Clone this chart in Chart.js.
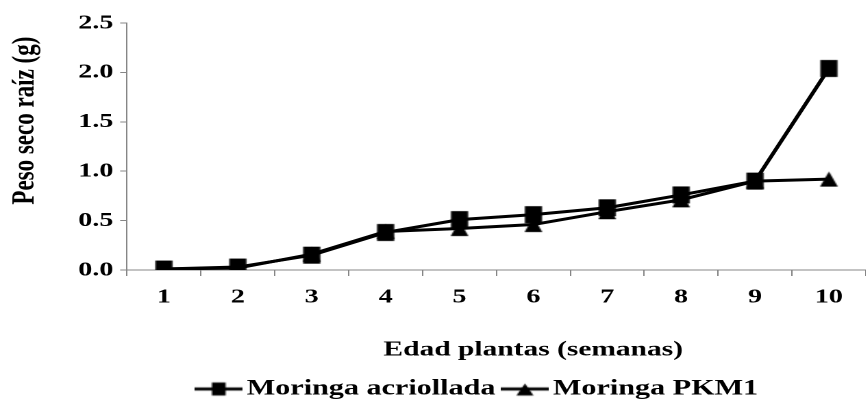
<!DOCTYPE html>
<html>
<head>
<meta charset="utf-8">
<script src="https://cdn.jsdelivr.net/npm/chart.js@4"></script>
<style>
  body { margin: 0; overflow: hidden; background: #fff; }
  /* the original picture is stretched sideways, so the whole chart is too */
  #wrap { width: 643px; height: 405px; transform: scaleX(1.37); transform-origin: 0 0; }
</style>
</head>
<body>
<div id="wrap"><canvas id="rootChart"></canvas></div>
<script>
const weeks = ['1', '2', '3', '4', '5', '6', '7', '8', '9', '10'];
const acriollada = [0.01, 0.03, 0.15, 0.38, 0.51, 0.56, 0.63, 0.76, 0.90, 2.04];
const pkm1 = [0.01, 0.02, 0.16, 0.39, 0.42, 0.46, 0.59, 0.71, 0.90, 0.92];
const seriesNames = ['Moringa acriollada', 'Moringa PKM1'];
const yTicks = [0, 0.5, 1.0, 1.5, 2.0, 2.5];

const serif = "'Liberation Serif', 'Times New Roman', serif";
const axisGray = '#868686';

// markers are drawn narrow, the stretch makes them square again
function drawShape(g, shape, cx, cy, w, h) {
    if (shape === 'rect') {
        g.fillRect(cx - w / 2, cy - h / 2, w, h);
    } else {
        g.beginPath();
        g.moveTo(cx, cy - h / 2);
        g.lineTo(cx + w / 2, cy + h / 2);
        g.lineTo(cx - w / 2, cy + h / 2);
        g.closePath();
        g.fill();
    }
}

function markerImage(shape, w, h) {
    let c = document.createElement('canvas');
    c.width = Math.ceil(w) + 2;
    c.height = Math.ceil(h) + 2;
    let g = c.getContext('2d');
    g.fillStyle = '#000';
    drawShape(g, shape, c.width / 2, c.height / 2, w, h);
    return c;
}

function legendIcon(shape, w, h) {
    let c = document.createElement('canvas');
    c.width = 35;
    c.height = 16;
    let g = c.getContext('2d');
    g.strokeStyle = '#000';
    g.fillStyle = '#000';
    g.lineWidth = 3;
    g.beginPath();
    g.moveTo(0, 8);
    g.lineTo(35, 8);
    g.stroke();
    drawShape(g, shape, 17.5, shape === 'rect' ? 8 : 8.5, w, h);
    return c;
}

const squareMark = markerImage('rect', 12.5, 17);
const triangleMark = markerImage('triangle', 13, 15);
const icons = [legendIcon('rect', 10, 13), legendIcon('triangle', 12.5, 12)];

// the legend is not centred on the canvas in the original
const nudgeLegend = {
    id: 'nudgeLegend',
    afterLayout(chart) {
        chart.legend.left += 32;
        chart.legend.right += 32;
        chart.legend.top += 5;
        chart.legend.bottom += 5;
    }
};

let ctx = document.getElementById('rootChart').getContext('2d');
new Chart(ctx, {
    type: 'line',
    data: {
        labels: weeks,
        datasets: [{
            label: seriesNames[0],
            data: acriollada,
            borderColor: '#000',
            backgroundColor: '#000',
            borderWidth: 3,
            pointStyle: squareMark,
            pointRadius: 8,
            tension: 0
        }, {
            label: seriesNames[1],
            data: pkm1,
            borderColor: '#000',
            backgroundColor: '#000',
            borderWidth: 3,
            pointStyle: triangleMark,
            pointRadius: 8,
            tension: 0
        }]
    },
    options: {
        responsive: true,
        maintainAspectRatio: false,
        animation: false,
        devicePixelRatio: 2,
        layout: { padding: { top: 23, left: 0, right: 3.5, bottom: 0 } },
        scales: {
            x: {
                offset: true,
                grid: { display: true, drawOnChartArea: false, offset: true, tickLength: 6, color: axisGray },
                border: { color: axisGray, width: 1 },
                ticks: { color: '#000', padding: 9, font: { family: serif, size: 20.5, weight: 'bold' } },
                title: {
                    display: true,
                    text: ' '.repeat(10) + 'Edad plantas (semanas)',
                    color: '#000',
                    padding: { top: 0, bottom: -2 },
                    font: { family: serif, size: 21.5, weight: 'bold' }
                },
                afterFit: scale => { scale.height = 91; }
            },
            y: {
                min: 0,
                max: 2.5,
                grid: { display: true, drawOnChartArea: false, tickLength: 5, color: axisGray },
                border: { color: axisGray, width: 1 },
                afterBuildTicks: scale => { scale.ticks = yTicks.map(v => ({ value: v })); },
                ticks: {
                    color: '#000',
                    padding: 5,
                    font: { family: serif, size: 20.5, weight: 'bold' },
                    callback: v => Number(v).toFixed(1)
                },
                title: {
                    display: true,
                    text: ' '.repeat(9) + 'Peso seco raíz (g)',
                    color: '#000',
                    padding: { top: 5, bottom: 0 },
                    font: { family: serif, size: 23, weight: 'bold' }
                },
                afterFit: scale => { scale.width = 92.7; }
            }
        },
        plugins: {
            tooltip: { enabled: false },
            legend: {
                position: 'bottom',
                labels: {
                    usePointStyle: true,
                    pointStyleWidth: 19,
                    padding: 12,
                    color: '#000',
                    font: { family: serif, size: 22, weight: 'bold' },
                    generateLabels: chart => chart.data.datasets.map((ds, i) => ({
                        text: ds.label,
                        pointStyle: icons[i],
                        datasetIndex: i,
                        hidden: false,
                        lineWidth: 0,
                        fillStyle: '#000',
                        strokeStyle: '#000',
                        fontColor: '#000'
                    }))
                }
            }
        }
    },
    plugins: [nudgeLegend]
});
</script>
</body>
</html>
